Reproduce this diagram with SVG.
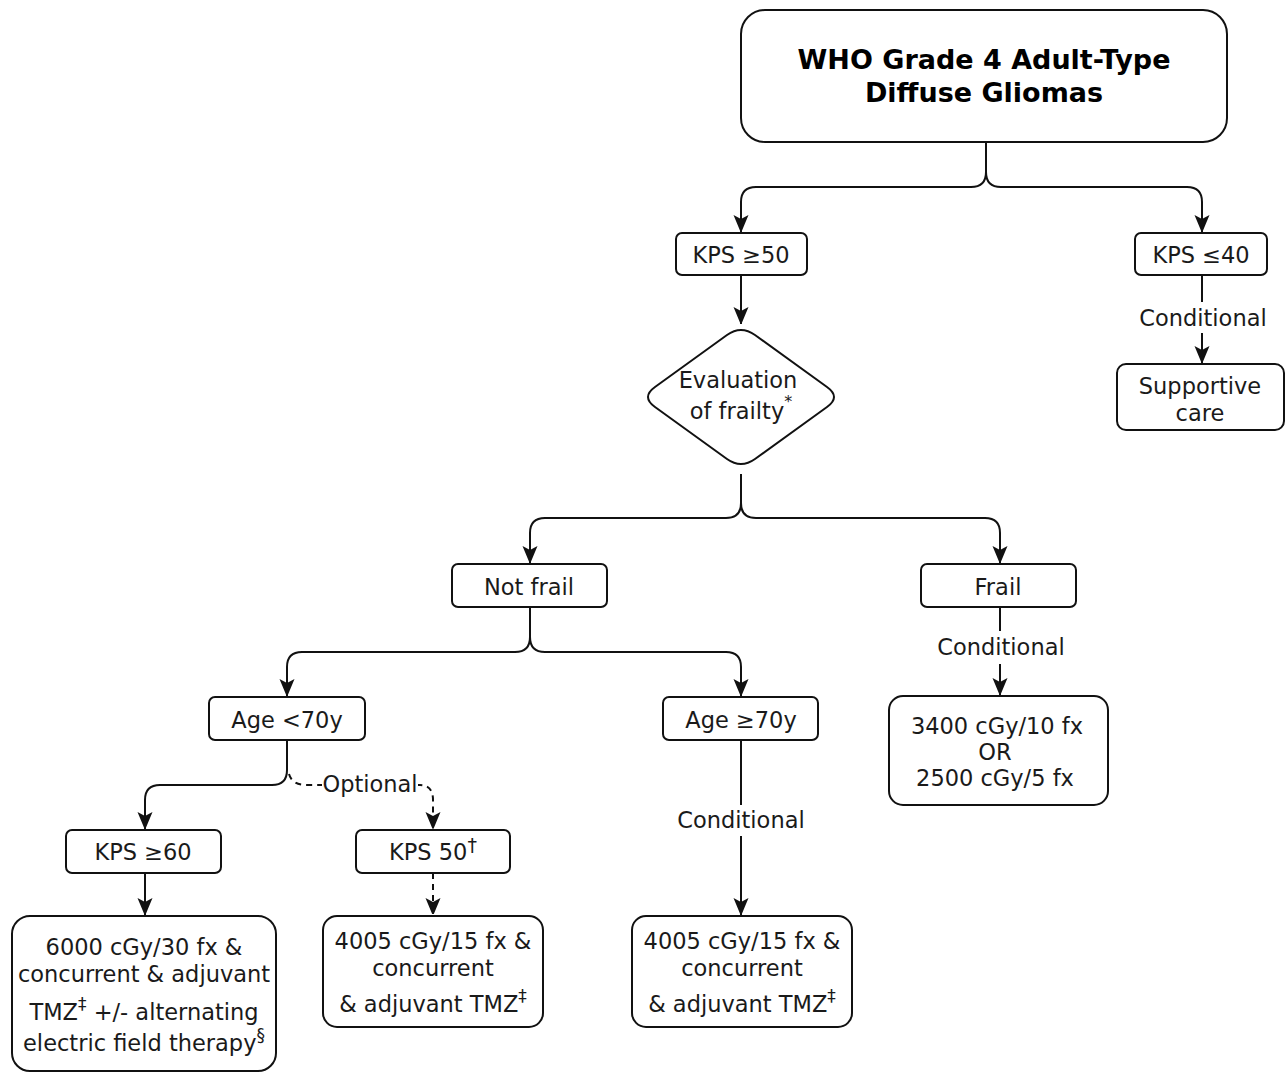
<svg xmlns="http://www.w3.org/2000/svg" width="1285" height="1073" viewBox="0 0 1285 1073">
<style>
.box{fill:#fff;stroke:#111;stroke-width:2}
.t{font-family:"DejaVu Sans",Verdana,sans-serif;font-size:22.5px;fill:#1a1a1a;text-anchor:middle}
.title{font-family:"DejaVu Sans",Verdana,sans-serif;font-size:27px;font-weight:bold;fill:#000;text-anchor:middle}
.c{fill:none;stroke:#111;stroke-width:2}
.d{fill:none;stroke:#111;stroke-width:2;stroke-dasharray:6 5}
</style>
<defs>
<marker id="ah" viewBox="0 0 16 18" markerWidth="16" markerHeight="18" refX="17" refY="9" orient="auto" markerUnits="userSpaceOnUse">
<path d="M0,1.5 L18,9 L0,16.5 L4,9 z" fill="#111"/>
</marker>
</defs>
<rect width="1285" height="1073" fill="#fff"/>
<g id="connectors">
<path class="c" d="M986,142 V172 Q986,187 971,187 H756 Q741,187 741,202 V232" marker-end="url(#ah)"/>
<path class="c" d="M986,172 Q986,187 1001,187 H1187 Q1202,187 1202,202 V232" marker-end="url(#ah)"/>
<path class="c" d="M741,275 V324" marker-end="url(#ah)"/>
<path class="c" d="M1202,275 V302"/>
<path class="c" d="M1202,333 V363" marker-end="url(#ah)"/>
<text class="t" x="1203" y="326">Conditional</text>
<path class="c" d="M741,474 V503 Q741,518 726,518 H545 Q530,518 530,533 V563" marker-end="url(#ah)"/>
<path class="c" d="M741,503 Q741,518 756,518 H985 Q1000,518 1000,533 V563" marker-end="url(#ah)"/>
<path class="c" d="M1000,607 V631"/>
<path class="c" d="M1000,664 V695" marker-end="url(#ah)"/>
<text class="t" x="1001" y="655">Conditional</text>
<path class="c" d="M530,607 V637 Q530,652 515,652 H302 Q287,652 287,667 V696" marker-end="url(#ah)"/>
<path class="c" d="M530,637 Q530,652 545,652 H726 Q741,652 741,667 V696" marker-end="url(#ah)"/>
<path class="c" d="M741,740 V805"/>
<path class="c" d="M741,836 V915" marker-end="url(#ah)"/>
<text class="t" x="741" y="828">Conditional</text>
<path class="c" d="M287,740 V770 Q287,785 272,785 H160 Q145,785 145,800 V829" marker-end="url(#ah)"/>
<path class="d" d="M289,774 Q292,785 307,785 H420 Q433,785 433,800 V829" marker-end="url(#ah)"/>
<rect x="322" y="772" width="96" height="24" fill="#fff"/>
<text class="t" x="370" y="792">Optional</text>
<path class="c" d="M145,873 V915" marker-end="url(#ah)"/>
<path class="d" d="M433,873 V915" marker-end="url(#ah)"/>
</g>
<g id="root">
<rect class="box" x="741" y="10" width="486" height="132" rx="24"/>
<text class="title" x="984" y="69">WHO Grade 4 Adult-Type</text>
<text class="title" x="984" y="102">Diffuse Gliomas</text>
</g>
<g id="kps50">
<rect class="box" x="676" y="233" width="131" height="42" rx="6"/>
<text class="t" x="741" y="263">KPS ≥50</text>
</g>
<g id="kps40">
<rect class="box" x="1135" y="233" width="132" height="42" rx="6"/>
<text class="t" x="1201" y="263">KPS ≤40</text>
</g>
<g id="supportive">
<rect class="box" x="1117" y="364" width="167" height="66" rx="9"/>
<text class="t" x="1200" y="394">Supportive</text>
<text class="t" x="1200" y="421">care</text>
</g>
<g id="frailty">
<path class="box" d="M755,335 L827,387 Q841,397 827,407 L755,459 Q741,469 727,459 L655,407 Q641,397 655,387 L727,335 Q741,325 755,335 Z"/>
<text class="t" x="738" y="388">Evaluation</text>
<text class="t" x="741" y="419">of frailty<tspan font-size="16" dy="-12">*</tspan></text>
</g>
<g id="notfrail">
<rect class="box" x="452" y="564" width="155" height="43" rx="6"/>
<text class="t" x="529" y="595">Not frail</text>
</g>
<g id="frail">
<rect class="box" x="921" y="564" width="155" height="43" rx="6"/>
<text class="t" x="998" y="595">Frail</text>
</g>
<g id="frailtx">
<rect class="box" x="889" y="696" width="219" height="109" rx="14"/>
<text class="t" x="997" y="734">3400 cGy/10 fx</text>
<text class="t" x="995" y="760">OR</text>
<text class="t" x="995" y="786">2500 cGy/5 fx</text>
</g>
<g id="ageLt70">
<rect class="box" x="209" y="697" width="156" height="43" rx="6"/>
<text class="t" x="287" y="728">Age &lt;70y</text>
</g>
<g id="ageGe70">
<rect class="box" x="663" y="697" width="155" height="43" rx="6"/>
<text class="t" x="741" y="728">Age ≥70y</text>
</g>
<g id="kps60">
<rect class="box" x="66" y="830" width="155" height="43" rx="6"/>
<text class="t" x="143" y="860">KPS ≥60</text>
</g>
<g id="kps50dag">
<rect class="box" x="356" y="830" width="154" height="43" rx="6"/>
<text class="t" x="433" y="860">KPS 50<tspan font-size="19" dy="-8">†</tspan></text>
</g>
<g id="tx6000">
<rect class="box" x="12" y="916" width="264" height="155" rx="18"/>
<text class="t" x="144" y="955">6000 cGy/30 fx &amp;</text>
<text class="t" x="144" y="982">concurrent &amp; adjuvant</text>
<text class="t" x="144" y="1020">TMZ<tspan font-size="17" dy="-10">‡</tspan><tspan dy="10"> +/- alternating</tspan></text>
<text class="t" x="144" y="1051">electric field therapy<tspan font-size="17" dy="-10">§</tspan></text>
</g>
<g id="tx4005a">
<rect class="box" x="323" y="916" width="220" height="111" rx="14"/>
<text class="t" x="433" y="949">4005 cGy/15 fx &amp;</text>
<text class="t" x="433" y="976">concurrent</text>
<text class="t" x="433" y="1012">&amp; adjuvant TMZ<tspan font-size="17" dy="-10">‡</tspan></text>
</g>
<g id="tx4005b">
<rect class="box" x="632" y="916" width="220" height="111" rx="14"/>
<text class="t" x="742" y="949">4005 cGy/15 fx &amp;</text>
<text class="t" x="742" y="976">concurrent</text>
<text class="t" x="742" y="1012">&amp; adjuvant TMZ<tspan font-size="17" dy="-10">‡</tspan></text>
</g>
</svg>
